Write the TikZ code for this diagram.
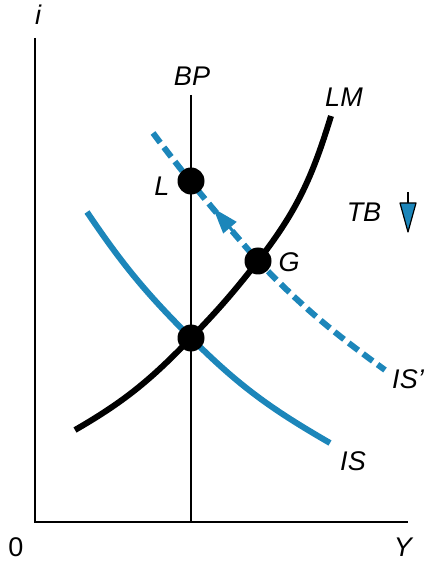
\documentclass[tikz,border=0pt]{standalone}
\usepackage{fontspec}
\setmainfont{Liberation Sans}
\usetikzlibrary{arrows.meta}
\definecolor{isblue}{RGB}{28,134,186}
\begin{document}
\begin{tikzpicture}[x=1pt,y=1pt,
  lab/.style={font=\itshape\fontsize{27}{30}\selectfont, inner sep=0pt},
  numlab/.style={font=\fontsize{27}{30}\selectfont, inner sep=0pt},
  axis/.style={line width=2.4pt},
  lmcurve/.style={line width=6pt},
  iscurve/.style={line width=6pt, isblue},
  dot/.style={circle, fill=black, minimum size=27pt, inner sep=0pt}]
\useasboundingbox (0,0) rectangle (431,563);
% axes
\coordinate (O) at (35,41);
\coordinate (ytop) at (35,525);
\coordinate (xend) at (408,41);
\draw[axis] (ytop) -- (O) -- (xend);
\node[lab] (ilab) at (38,548) {i};
\node[numlab] (zero) at (16,16) {0};
\node[lab] (Ylab) at (403,16) {Y};
% BP
\coordinate (bptop) at (191,468);
\coordinate (bpbot) at (191,41);
\draw[line width=2.7pt] (bptop) -- (bpbot);
\node[lab] (BP) at (192,487) {BP};
% IS
\draw[iscurve] (87,351) to[out=-56,in=135] (191,225) to[out=-45,in=150] (330,120);
\node[lab] (ISlab) at (353,102) {IS};
% IS'
\draw[iscurve, dash pattern=on 12pt off 6pt] (153,430) to[out=-53,in=131] (258,302) to[out=-46,in=144] (385,193);
\node[lab] (ISplab) at (408,184) {IS'};
% LM
\draw[lmcurve] (75,133) to[out=30,in=226] (191,225) to[out=46,in=232] (258,302) to[out=52,in=253] (331,447);
\node[lab] (LMlab) at (344,466) {LM};
% arrow on IS'
\coordinate (arrbase) at (238,326);
\coordinate (arrtip) at (213,355);
\draw[isblue, line width=3pt, -{Triangle[length=26pt,width=17pt]}] (arrbase) -- (arrtip);
% dots
\node[dot] (L) at (191,382) {};
\node[dot] (G) at (258,302) {};
\node[dot] (E) at (191,225) {};
\node[lab] (Llab) at (162,377) {L};
\node[lab] (Glab) at (289,301) {G};
% TB
\node[lab] (TB) at (364,351) {TB};
\coordinate (stemtop) at (408,371);
\coordinate (stembot) at (408,360);
\draw[line width=2pt] (stemtop) -- (stembot);
\draw[line width=1.2pt, fill=isblue, line join=round] (400,360) -- (416,360) -- (408,331) -- cycle;
\end{tikzpicture}
\end{document}
